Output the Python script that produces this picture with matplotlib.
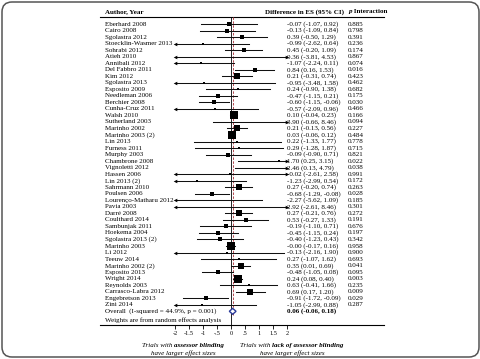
import numpy as np
import matplotlib
matplotlib.use('Agg')
import matplotlib.pyplot as plt
from matplotlib.patches import FancyBboxPatch, Polygon

# data
authors = ['Eberhard 2008', 'Cairo 2008', 'Sgolastra 2012', 'Stoecklin-Wasmer 2013',
           'Sohrabi 2012', 'Atieh 2010', 'Annibali 2012', 'Del Fabbro 2011', 'Kim 2012',
           'Sgolastra 2013', 'Esposito 2009', 'Needleman 2006', 'Berchier 2008',
           'Cunha-Cruz 2011', 'Walsh 2010', 'Sutherland 2003', 'Marinho 2002',
           'Marinho 2003 (2)', 'Lin 2013', 'Furness 2011', 'Murphy 2003', 'Chambrone 2008',
           'Vignoletti 2012', 'Hassen 2006', 'Lin 2013 (2)', 'Sahrmann 2010', 'Poulsen 2006',
           'Lourenço-Matharu 2012', 'Pavia 2003', 'Darré 2008', 'Coulthard 2014',
           'Sambunjak 2011', 'Hoekema 2004', 'Sgolastra 2013 (2)', 'Marinho 2003', 'Li 2012',
           'Teeuw 2014', 'Marinho 2002 (2)', 'Esposito 2013', 'Wright 2014', 'Reynolds 2003',
           'Carrasco-Labra 2012', 'Engebretson 2013', 'Zini 2014']
es = [-0.07, -0.13, 0.39, -0.99, 0.45, 0.36, -1.07, 0.84, 0.21, -0.95, 0.24, -0.47, -0.60,
      -0.57, 0.10, 3.90, 0.21, 0.03, 0.22, 0.29, -0.09, 1.70, 2.46, -0.02, -1.23, 0.27,
      -0.68, -2.27, 2.92, 0.27, 0.53, -0.19, -0.45, -0.40, -0.00, -0.13, 0.27, 0.35, -0.48,
      0.24, 0.63, 0.69, -0.91, -1.05]
lo = [-1.07, -1.09, -0.50, -2.62, -0.20, -3.81, -2.24, 0.16, -0.31, -3.48, -0.90, -1.15,
      -1.15, -2.09, -0.04, -0.66, -0.13, -0.06, -1.33, -1.28, -0.90, 0.25, 0.13, -2.61,
      -2.99, -0.20, -1.29, -5.62, -2.61, -0.21, -0.27, -1.10, -1.15, -1.23, -0.17, -2.16,
      -1.07, 0.01, -1.05, 0.08, -0.41, 0.17, -1.72, -2.99]
hi = [0.92, 0.84, 1.29, 0.64, 1.09, 4.53, 0.11, 1.53, 0.74, 1.58, 1.38, 0.21, -0.06, 0.96,
      0.23, 8.46, 0.56, 0.12, 1.77, 1.87, 0.71, 3.15, 4.79, 2.58, 0.54, 0.74, -0.08, 1.09,
      8.46, 0.76, 1.33, 0.71, 0.24, 0.43, 0.16, 1.90, 1.62, 0.69, 0.08, 0.40, 1.66, 1.20,
      -0.09, 0.88]
p_int = ['0.885', '0.798', '0.391', '0.236', '0.174', '0.867', '0.074', '0.016', '0.423',
         '0.462', '0.682', '0.175', '0.030', '0.466', '0.166', '0.094', '0.227', '0.484',
         '0.778', '0.715', '0.821', '0.022', '0.038', '0.991', '0.172', '0.263', '0.028',
         '0.185', '0.301', '0.272', '0.191', '0.676', '0.197', '0.342', '0.958', '0.900',
         '0.693', '0.041', '0.095', '0.003', '0.235', '0.009', '0.029', '0.287']
overall = (0.06, -0.06, 0.18)
overall_label = 'Overall  (I-squared = 44.9%, p = 0.001)'
xticks = [-2, -1.5, -1, -0.5, 0, 0.5, 1, 1.5, 2]
xticklabels = ['-2', '-1.5', '-1', '-.5', '0', '.5', '1', '1.5', '2']

plt.rcParams['font.family'] = ['Liberation Serif', 'DejaVu Serif']
FS = 5

fig = plt.figure(figsize=(4.81, 3.59), dpi=100)
ax = fig.add_axes([0, 0, 1, 1])

# pixel -> data helpers (28 px per unit, 6.53 px per row)
def X(px):
    return (px - 231) / 28.0

def R(py):
    return (py - 24) / 6.53

ax.set_xlim(X(0), X(481))
ax.set_ylim(R(359), R(0))
for s in ['top', 'left', 'right']:
    ax.spines[s].set_visible(False)
ax.spines['bottom'].set_position(('data', R(325)))
ax.spines['bottom'].set_bounds(X(100), X(384))
ax.spines['bottom'].set_linewidth(0.8)
ax.set_xticks(xticks, xticklabels)
ax.set_yticks([])
ax.tick_params(axis='x', direction='out', length=3, width=0.6, labelsize=4.5, pad=1.5)
ax.patch.set_visible(False)

# random effects weights -> square size
lo_a, hi_a, es_a = np.array(lo), np.array(hi), np.array(es)
v = ((hi_a - lo_a) / 3.92) ** 2
w = 1 / v
q = np.sum(w * (es_a - np.sum(w * es_a) / w.sum()) ** 2)
tau2 = max(0, (q - (len(es) - 1)) / (w.sum() - np.sum(w ** 2) / w.sum()))
wr = 1 / (v + tau2)
side_px = 8.5 * np.sqrt(wr / wr.max())

renderer = fig.canvas.get_renderer()

# text made of pieces with different styles
def rich(x, y, parts, ha='center'):
    ts = [ax.text(0, y, s, fontsize=FS, va='center_baseline', style=st, fontweight=fw)
          for s, st, fw in parts]
    ws = [t.get_window_extent(renderer).width / 28.0 for t in ts]
    x0 = x - sum(ws) / 2 if ha == 'center' else x
    for t, wd in zip(ts, ws):
        t.set_x(x0)
        x0 += wd

# header
ax.text(X(105), R(11), 'Author, Year', fontsize=FS, fontweight='bold', va='center_baseline')
ax.text(X(344), R(11), 'Difference in ES (95% CI)', fontsize=FS, fontweight='bold',
        va='center_baseline', ha='right')
rich(X(349), R(11), [('p', 'italic', 'bold'), (' Interaction', 'normal', 'bold')], ha='left')
ax.plot([X(100), X(384)], [R(17), R(17)], color='k', lw=0.8)

# reference lines
ax.plot([0, 0], [R(17), R(325)], color='k', lw=0.6)
ax.plot([overall[0]] * 2, [R(17), R(316)], color='#b5484f', lw=0.7, dashes=(2.5, 1.5))

for i in range(len(authors)):
    y = i
    a, b = max(lo[i], -2), min(hi[i], 2)
    ax.plot([a, b], [y, y], color='#111111', lw=0.75)
    if lo[i] < -2:
        ax.plot(-2, y, marker='<', ms=2.6, color='k', mew=0)
    if hi[i] > 2:
        ax.plot(2, y, marker='>', ms=2.6, color='k', mew=0)
    if -2 <= es[i] <= 2:
        ax.scatter(es[i], y, marker='s', s=(side_px[i] * 0.72) ** 2, color='k',
                   linewidths=0, zorder=3)
    ax.text(X(105), y, authors[i], fontsize=FS, va='center')
    ax.text(X(287), y, '%.2f (%.2f, %.2f)' % (es[i], lo[i], hi[i]), fontsize=FS, va='center')
    ax.text(X(348), y, p_int[i], fontsize=FS, va='center')

# overall
yo = len(authors)
ax.add_patch(Polygon([(overall[1], yo), (overall[0], yo - 0.45), (overall[2], yo),
                      (overall[0], yo + 0.45)], closed=True, fc='white', ec='#2a3a9a',
                     lw=1.0, zorder=4))
ax.text(X(105), yo, overall_label, fontsize=FS, va='center')
ax.text(X(287), yo, '%.2f (%.2f, %.2f)' % overall, fontsize=FS, fontweight='bold', va='center')
ax.text(X(105), R(320), 'Weights are from random effects analysis', fontsize=FS, va='center')

# captions under the axis
rich(X(183), R(345), [('Trials with ', 'italic', 'normal'), ('assessor blinding', 'italic', 'bold')])
rich(X(183), R(353), [('have larger effect sizes', 'italic', 'normal')])
rich(X(292), R(345), [('Trials with ', 'italic', 'normal'),
                      ('lack of assessor blinding', 'italic', 'bold')])
rich(X(292), R(353), [('have larger effect sizes', 'italic', 'normal')])

# rounded frame
fig.patches.append(FancyBboxPatch((0.02, 0.02), 4.77, 3.55,
                                  boxstyle='round,pad=0,rounding_size=0.1',
                                  transform=fig.dpi_scale_trans, fill=False,
                                  ec='#555555', lw=1.1))

fig.savefig('out.png', dpi=100)
